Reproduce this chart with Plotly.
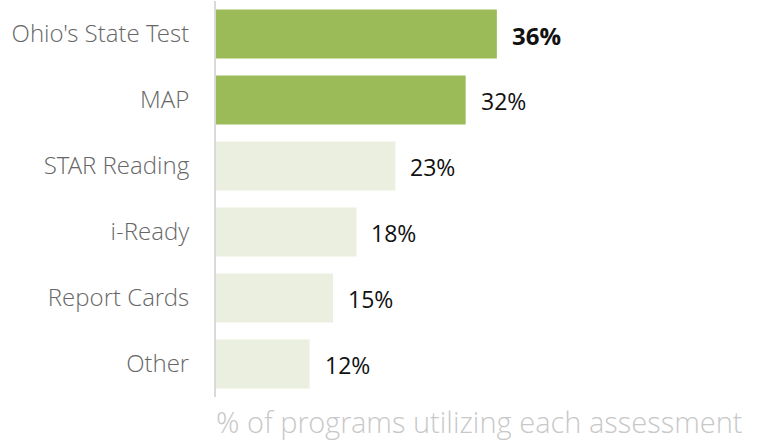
import plotly.graph_objects as go

categories = ["Ohio's State Test", "MAP", "STAR Reading", "i-Ready", "Report Cards", "Other"]
values = [36, 32, 23, 18, 15, 12]
labels = ["36%", "32%", "23%", "18%", "15%", "12%"]
highlight = [True, True, False, False, False, False]
x_title = "% of programs utilizing each assessment"

GREEN = "#9BBB59"
PALE = "#EBEFDF"
LIGHT_FONT = "Open Sans Light, Open Sans, sans-serif"

colors = [GREEN if h else PALE for h in highlight]

fig = go.Figure()
fig.add_trace(go.Bar(
    y=categories,
    x=values,
    orientation="h",
    marker=dict(color=colors, line=dict(width=0)),
    hoverinfo="skip",
))

for cat, v, lab, h in zip(categories, values, labels, highlight):
    bold = lab == "36%"
    fig.add_annotation(
        x=v, y=cat, xref="x", yref="y",
        text=f"<b>{lab}</b>" if bold else lab,
        showarrow=False, xanchor="left", yanchor="middle",
        xshift=13, yshift=-1,
        font=dict(family="Open Sans", size=24 if bold else 23, color="#111111"),
    )

fig.add_annotation(
    x=0, y=-0.063, xref="paper", yref="paper",
    text=x_title, showarrow=False, xanchor="left", yanchor="middle",
    xshift=-2,
    font=dict(family=LIGHT_FONT, size=29, color="#c8c8c8", weight=300),
)

fig.update_layout(
    width=766, height=444,
    margin=dict(l=216, r=0, t=1, b=47),
    plot_bgcolor="white", paper_bgcolor="white",
    showlegend=False,
    bargap=0.2576,
    xaxis=dict(range=[0, 70.5], showgrid=False, zeroline=False, showticklabels=False,
               ticks="", showline=False, fixedrange=True),
    yaxis=dict(categoryorder="array", categoryarray=categories[::-1],
               autorange=False, range=[-0.5, 5.5],
               showgrid=False, zeroline=False, ticks="",
               showline=True, linecolor="#d9d9d9", linewidth=2,
               ticklabelstandoff=20,
               tickfont=dict(family=LIGHT_FONT, size=24, color="#666666", weight=300)),
)

fig.write_html("out.html")
